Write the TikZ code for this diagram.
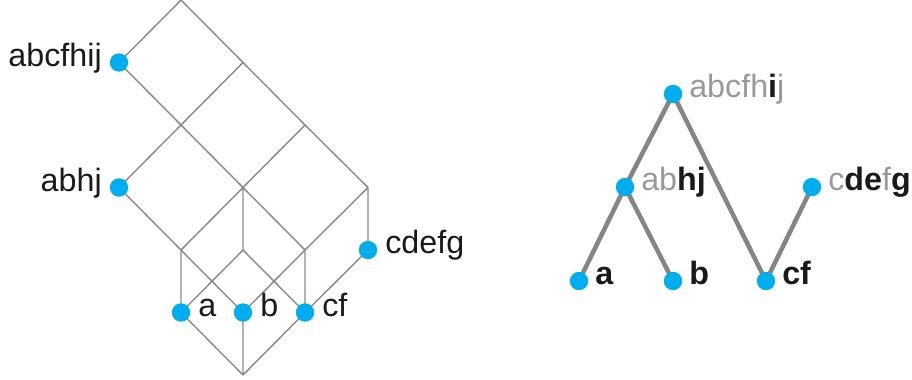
\documentclass[tikz,border=0pt]{standalone}
\usepackage{fontspec}
\setmainfont{Liberation Sans}
\definecolor{dotblue}{HTML}{00AEEF}
\definecolor{linegray}{HTML}{8C8C8C}
\definecolor{treegray}{HTML}{858585}
\definecolor{txtgray}{HTML}{999999}
\definecolor{txtblack}{HTML}{1A1A1A}
\tikzset{
  dot/.style={circle, fill=dotblue, inner sep=0pt, minimum size=13.8pt},
  thin edge/.style={draw=linegray, line width=1.1pt},
  thick edge/.style={draw=treegray, line width=3.4pt},
  lbl/.style={inner sep=0pt, font=\fontsize{24.2}{29}\selectfont, text=txtblack},
}
\begin{document}
\begin{tikzpicture}[x=0.75pt,y=-0.75pt]
\useasboundingbox (0,0) rectangle (912,379);
% ---------- left lattice ----------
\coordinate (T) at (181,0);
\coordinate (P2) at (243,62.5);
\coordinate (Q1) at (181,125);
\coordinate (Q2) at (305,125);
\coordinate (R) at (243,187.5);
\coordinate (S) at (368,187.5);
\coordinate (U) at (181,250);
\coordinate (V) at (243,250);
\coordinate (W) at (305,250);
\coordinate (Bot) at (243,375);
\coordinate (P1) at (119,62.5);
\coordinate (AB) at (119,187.5);
\coordinate (CD) at (368,250);
\coordinate (La) at (181,312.5);
\coordinate (Lb) at (243,312.5);
\coordinate (Lcf) at (305,312.5);
\path[thin edge]
  (T) -- (P1)
  (T) -- (P2) -- (Q2) -- (S)
  (P1) -- (Q1) -- (R) -- (W) -- (Lcf)
  (P2) -- (Q1) -- (AB)
  (Q2) -- (R) -- (U) -- (La)
  (S) -- (W) -- (Lb)
  (S) -- (CD) -- (Lcf)
  (AB) -- (U) -- (Lb)
  (R) -- (V)
  (V) -- (La)
  (V) -- (Lcf)
  (La) -- (Bot)
  (Lb) -- (Bot)
  (Lcf) -- (Bot);
\node[dot] (nP1) at (P1) {};
\node[dot] (nAB1) at (AB) {};
\node[dot] (nCD1) at (CD) {};
\node[dot] (nLa) at (La) {};
\node[dot] (nLb) at (Lb) {};
\node[dot] (nLcf) at (Lcf) {};
\path (P1) ++(-17,0) node[lbl, anchor=mid east] {abcfhij};
\path (AB) ++(-17,0) node[lbl, anchor=mid east] {abhj};
\path (CD) ++(17,0) node[lbl, anchor=mid west] {cdefg};
\path (La) ++(17,0) node[lbl, anchor=mid west] {a};
\path (Lb) ++(17,0) node[lbl, anchor=mid west] {b};
\path (Lcf) ++(17,0) node[lbl, anchor=mid west] {cf};
% ---------- right tree ----------
\coordinate (tR) at (673,94);
\coordinate (tAB) at (625,187);
\coordinate (tCD) at (812,187);
\coordinate (ta) at (579,281);
\coordinate (tb) at (673,281);
\coordinate (tcf) at (766,281);
\path[thick edge]
  (tR) -- (tAB)
  (tR) -- (tcf)
  (tAB) -- (ta)
  (tAB) -- (tb)
  (tCD) -- (tcf);
\node[dot] (nR) at (tR) {};
\node[dot] (nAB) at (tAB) {};
\node[dot] (nCD) at (tCD) {};
\node[dot] (na) at (ta) {};
\node[dot] (nb) at (tb) {};
\node[dot] (ncf) at (tcf) {};
\path (tR) ++(16,0) node[lbl, anchor=mid west] {\textcolor{txtgray}{abcfh}\textbf{i}\textcolor{txtgray}{j}};
\path (tAB) ++(16,0) node[lbl, anchor=mid west] {\textcolor{txtgray}{ab}\textbf{hj}};
\path (tCD) ++(16,0) node[lbl, anchor=mid west] {\textcolor{txtgray}{c}\textbf{de}\textcolor{txtgray}{f}\textbf{g}};
\path (ta) ++(16,0) node[lbl, anchor=mid west] {\textbf{a}};
\path (tb) ++(16,0) node[lbl, anchor=mid west] {\textbf{b}};
\path (tcf) ++(16,0) node[lbl, anchor=mid west] {\textbf{cf}};
\end{tikzpicture}
\end{document}
